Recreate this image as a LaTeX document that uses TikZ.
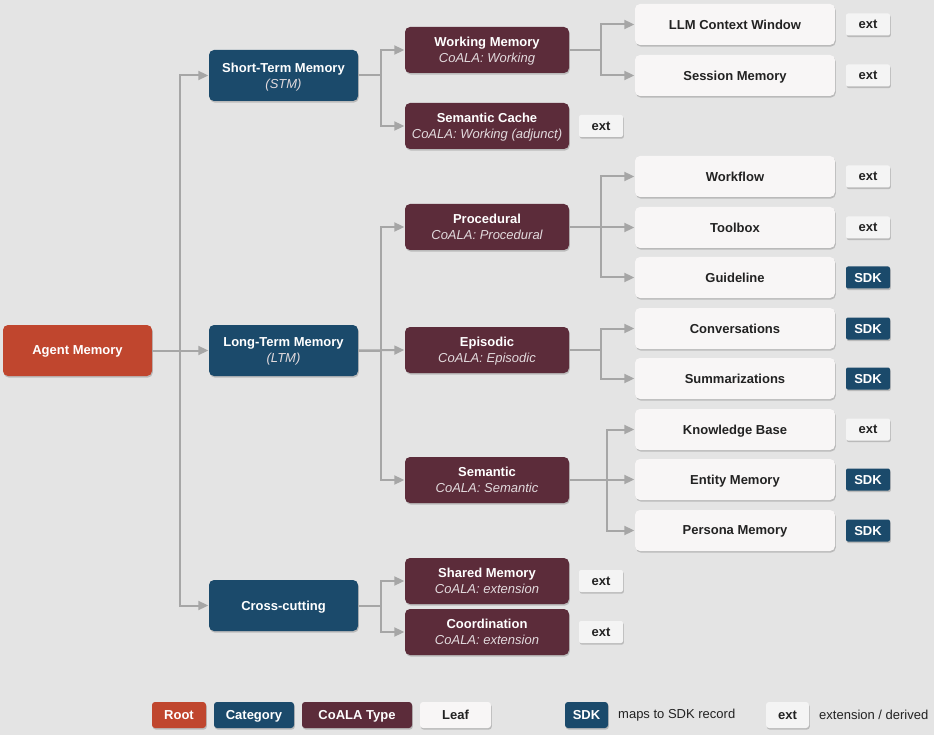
\documentclass[tikz,border=0pt]{standalone}
\usepackage{fontspec}
\setmainfont{Liberation Sans}
\usetikzlibrary{arrows.meta,shadows}
\definecolor{bg}{HTML}{E4E4E4}
\definecolor{rootc}{HTML}{C0462E}
\definecolor{catc}{HTML}{1B4A6B}
\definecolor{coalac}{HTML}{5C2C3A}
\definecolor{leafc}{HTML}{F8F6F6}
\definecolor{extc}{HTML}{F4F4F4}
\definecolor{ink}{HTML}{222222}
\definecolor{linec}{HTML}{A6A6A6}
\definecolor{subc}{HTML}{E2DADD}
\newcommand{\subl}[1]{{\mdseries\itshape\color{subc}#1}}
\tikzset{
  basebox/.style={rounded corners=5pt, inner sep=0pt, align=center, text depth=0pt,
    font=\bfseries\fontsize{13}{16}\selectfont, text=white,
    drop shadow={shadow xshift=0.8pt, shadow yshift=-1.6pt, opacity=0.18, fill=black}},
  rootbox/.style={basebox, fill=rootc, minimum width=149pt, minimum height=51pt},
  catbox/.style={basebox, fill=catc, minimum width=149pt, minimum height=51pt},
  coalabox/.style={basebox, fill=coalac, minimum width=164pt, minimum height=46pt},
  leafbox/.style={basebox, fill=leafc, text=ink, minimum width=200pt, minimum height=41pt},
  badge/.style={basebox, rounded corners=2pt, minimum width=44pt, minimum height=22pt},
  extbadge/.style={badge, fill=extc, text=ink},
  sdkbadge/.style={badge, fill=catc, text=white},
  legbox/.style={basebox, rounded corners=3pt, minimum height=26pt},
  legtext/.style={anchor=west, inner sep=0pt, text=ink, font=\fontsize{13}{16}\selectfont},
  conn/.style={draw=linec, line width=2pt, -{Triangle[length=10pt,width=9pt]}, shorten >=0.5pt},
}
\begin{document}
\begin{tikzpicture}[x=1pt,y=-1pt]
\fill[bg] (0,0) rectangle (934,735);
\useasboundingbox (0,0) rectangle (934,735);

% root and categories
\node[rootbox] (root) at (77.5,350.5) {Agent Memory};
\node[catbox] (stm) at (283.5,75.5) {Short-Term Memory\\\subl{(STM)}};
\node[catbox] (ltm) at (283.5,350.5) {Long-Term Memory\\\subl{(LTM)}};
\node[catbox] (cross) at (283.5,605.5) {Cross-cutting};

% CoALA types
\node[coalabox] (wm) at (487,50) {Working Memory\\\subl{CoALA: Working}};
\node[coalabox] (sc) at (487,126) {Semantic Cache\\\subl{CoALA: Working (adjunct)}};
\node[coalabox] (proc) at (487,227) {Procedural\\\subl{CoALA: Procedural}};
\node[coalabox] (epi) at (487,350) {Episodic\\\subl{CoALA: Episodic}};
\node[coalabox] (sem) at (487,480) {Semantic\\\subl{CoALA: Semantic}};
\node[coalabox] (shared) at (487,581) {Shared Memory\\\subl{CoALA: extension}};
\node[coalabox] (coord) at (487,632) {Coordination\\\subl{CoALA: extension}};

\node[extbadge] (bsc) at (601,126) {ext};
\node[extbadge] (bshared) at (601,581) {ext};
\node[extbadge] (bcoord) at (601,632) {ext};

% leaves
\node[leafbox] (llm) at (735,24.5) {LLM Context Window};
\node[leafbox] (sess) at (735,75.5) {Session Memory};
\node[leafbox] (wf) at (735,176.5) {Workflow};
\node[leafbox] (tool) at (735,227.5) {Toolbox};
\node[leafbox] (guide) at (735,277.5) {Guideline};
\node[leafbox] (conv) at (735,328.5) {Conversations};
\node[leafbox] (summ) at (735,378.5) {Summarizations};
\node[leafbox] (kb) at (735,429.5) {Knowledge Base};
\node[leafbox] (ent) at (735,479.5) {Entity Memory};
\node[leafbox] (pers) at (735,530.5) {Persona Memory};

\node[extbadge] (bllm) at (868,24.5) {ext};
\node[extbadge] (bsess) at (868,75.5) {ext};
\node[extbadge] (bwf) at (868,176.5) {ext};
\node[extbadge] (btool) at (868,227.5) {ext};
\node[sdkbadge] (bguide) at (868,277.5) {SDK};
\node[sdkbadge] (bconv) at (868,328.5) {SDK};
\node[sdkbadge] (bsumm) at (868,378.5) {SDK};
\node[extbadge] (bkb) at (868,429.5) {ext};
\node[sdkbadge] (bent) at (868,479.5) {SDK};
\node[sdkbadge] (bpers) at (868,530.5) {SDK};

% connectors
\draw[conn] (root.east) -- ++(28,0) |- (stm.west);
\draw[conn] (root.east) -- (ltm.west);
\draw[conn] (root.east) -- ++(28,0) |- (cross.west);

\draw[conn] (stm.east) -- ++(23,0) |- (wm.west);
\draw[conn] (stm.east) -- ++(23,0) |- (sc.west);
\draw[conn] (ltm.east) -- ++(23,0) |- (proc.west);
\draw[conn] (ltm.east) -- (epi.west);
\draw[conn] (ltm.east) -- ++(23,0) |- (sem.west);
\draw[conn] (cross.east) -- ++(23,0) |- (shared.west);
\draw[conn] (cross.east) -- ++(23,0) |- (coord.west);

\draw[conn] (wm.east) -- ++(32,0) |- (llm.west);
\draw[conn] (wm.east) -- ++(32,0) |- (sess.west);
\draw[conn] (proc.east) -- ++(32,0) |- (wf.west);
\draw[conn] (proc.east) -- ++(32,0) |- (tool.west);
\draw[conn] (proc.east) -- ++(32,0) |- (guide.west);
\draw[conn] (epi.east) -- ++(32,0) |- (conv.west);
\draw[conn] (epi.east) -- ++(32,0) |- (summ.west);
\draw[conn] (sem.east) -- ++(38,0) |- (kb.west);
\draw[conn] (sem.east) -- ++(38,0) |- (ent.west);
\draw[conn] (sem.east) -- ++(38,0) |- (pers.west);

% legend
\node[legbox, fill=rootc, minimum width=54pt] (lroot) at (179,715) {Root};
\node[legbox, fill=catc, minimum width=80pt] (lcat) at (254,715) {Category};
\node[legbox, fill=coalac, minimum width=110pt] (lcoala) at (357,715) {CoALA Type};
\node[legbox, fill=leafc, text=ink, minimum width=71pt] (lleaf) at (455.5,715) {Leaf};
\node[legbox, fill=catc, minimum width=43pt] (lsdk) at (586.5,715) {SDK};
\node[legtext] (tsdk) at (618,715) {maps to SDK record};
\node[legbox, fill=extc, text=ink, minimum width=43pt] (lext) at (787.5,715) {ext};
\node[legtext] (text) at (819,715) {extension / derived};
\end{tikzpicture}
\end{document}
